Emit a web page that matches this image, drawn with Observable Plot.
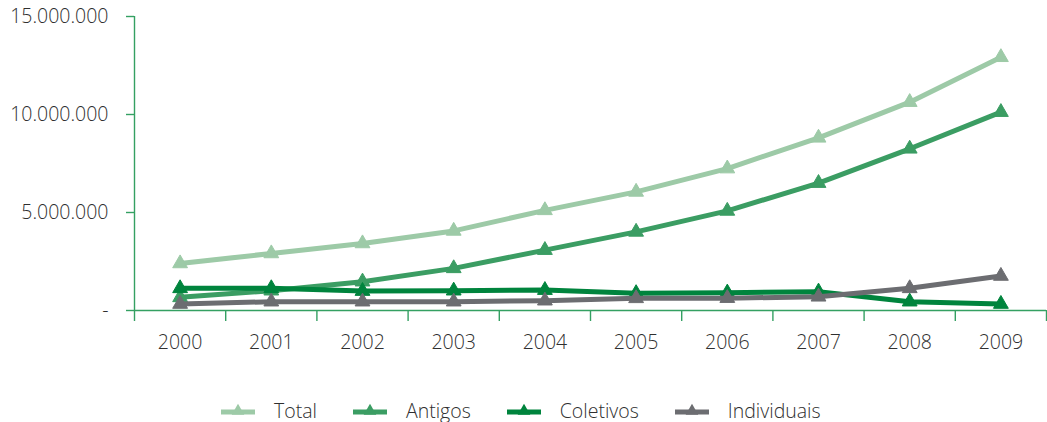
<!DOCTYPE html>
<html>
<head>
<meta charset="utf-8">
<script src="https://cdn.jsdelivr.net/npm/d3@7"></script>
<script src="https://cdn.jsdelivr.net/npm/@observablehq/plot@0.6"></script>
<style>
  html, body { margin: 0; padding: 0; background: #fff; }
  #chart { position: relative; width: 1047px; }
  #legend {
    display: flex; align-items: center;
    margin-left: 221px; margin-top: 37px;
    font-family: "Open Sans", sans-serif; font-weight: 300; font-size: 19.5px; color: #2f2f2f;
  }
  .item { display: flex; align-items: center; margin-right: 36px; }
  .item svg { margin-right: 19px; }
</style>
</head>
<body>
<div id="chart"></div>
<div id="legend"></div>
<script>
// Years and series values (number of beneficiaries)
const years = [2000, 2001, 2002, 2003, 2004, 2005, 2006, 2007, 2008, 2009];
const seriesNames = ["Total", "Antigos", "Coletivos", "Individuais"];
const total       = [2400000, 2910000, 3420000, 4060000, 5110000, 6050000, 7240000, 8810000, 10630000, 12920000];
const antigos     = [670000, 1010000, 1470000, 2150000, 3080000, 4010000, 5080000, 6500000, 8250000, 10120000];
const coletivos   = [1130000, 1130000, 990000, 1010000, 1040000, 880000, 910000, 960000, 450000, 330000];
const individuais = [330000, 450000, 450000, 450000, 500000, 620000, 630000, 700000, 1130000, 1760000];
const seriesColors = ["#9dcaa7", "#3b9d63", "#00843d", "#6c6d71"];
const yTicks = [0, 5000000, 10000000, 15000000];

const axisGreen = "#34a062";
const textColor = "#2f2f2f";

const valuesBySeries = [total, antigos, coletivos, individuais];
const rows = seriesNames.flatMap((s, i) =>
  years.map((year, j) => ({series: s, year, value: valuesBySeries[i][j]}))
);

// year slots: category boundaries sit half a year either side of each label
const boundaries = [years[0] - 0.5, ...years.map(y => y + 0.5)];

const fmt = d => d === 0 ? "-" : d3.format(",")(d).replace(/,/g, ".");

const seriesMarks = seriesNames.flatMap(s => {
  const data = rows.filter(r => r.series === s);
  return [
    Plot.line(data, {x: "year", y: "value", stroke: "series", strokeWidth: 5, strokeLinejoin: "round"}),
    Plot.dot(data, {x: "year", y: "value", fill: "series", stroke: "series", strokeWidth: 1, symbol: "triangle", r: 5.5})
  ];
});

const chart = Plot.plot({
  width: 1047,
  height: 360,
  marginTop: 16,
  marginBottom: 50,
  marginLeft: 134,
  marginRight: 1,
  style: {fontFamily: "Open Sans, sans-serif", fontWeight: 300, fontSize: "19.5px", color: textColor, background: "#fff"},
  x: {type: "linear", domain: [boundaries[0], boundaries[boundaries.length - 1]]},
  y: {domain: [0, 15000000]},
  color: {domain: seriesNames, range: seriesColors},
  marks: [
    Plot.axisY({ticks: yTicks, tickSize: 8, tickPadding: 18, stroke: axisGreen, strokeWidth: 1.4, fill: textColor, tickFormat: fmt, label: null}),
    Plot.axisX({ticks: boundaries, tickSize: 11, stroke: axisGreen, strokeWidth: 1.4, tickFormat: () => "", label: null}),
    Plot.axisX({ticks: years, tickSize: 0, tickPadding: 25, fill: textColor, tickFormat: d => String(d), label: null}),
    Plot.ruleX([boundaries[0]], {y1: 0, y2: 15000000, stroke: axisGreen, strokeWidth: 1.4}),
    Plot.ruleY([0], {stroke: axisGreen, strokeWidth: 1.4}),
    ...seriesMarks
  ]
});
document.getElementById("chart").append(chart);

// legend: line swatch with a triangle marker, then the series name
const legend = d3.select("#legend");
seriesNames.forEach((s, i) => {
  const item = legend.append("div").attr("class", "item");
  const svg = item.append("svg").attr("width", 34).attr("height", 16);
  svg.append("line").attr("x1", 0).attr("x2", 34).attr("y1", 9).attr("y2", 9)
    .attr("stroke", seriesColors[i]).attr("stroke-width", 5);
  svg.append("path").attr("d", d3.symbol(d3.symbolTriangle, 70)())
    .attr("transform", "translate(17,8)").attr("fill", seriesColors[i]);
  item.append("span").text(s);
});
</script>
</body>
</html>
